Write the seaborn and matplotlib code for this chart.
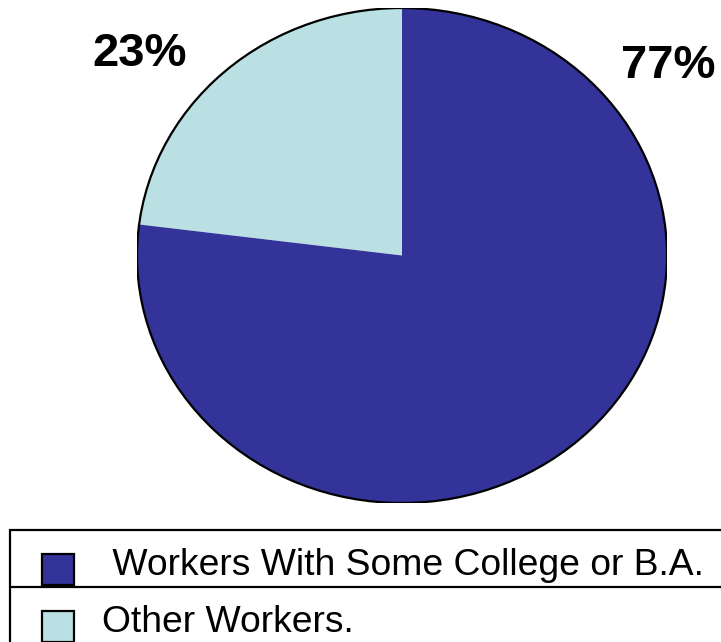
import matplotlib
matplotlib.use("Agg")
import matplotlib.pyplot as plt
from matplotlib.patches import Circle, Rectangle
from matplotlib.lines import Line2D
import seaborn as sns

# data
slice_names = ["Other Workers.", "Workers With Some College or B.A."]
slice_values = [23, 77]
slice_colors = ["#BBE0E3", "#333399"]

legend_labels = [" Workers With Some College or B.A.", "Other Workers."]
legend_colors = ["#333399", "#BBE0E3"]

sns.set_style("white")
plt.rcParams["font.family"] = ["Liberation Sans", "DejaVu Sans"]
plt.rcParams["text.color"] = "black"

W, H = 721, 642
fig = plt.figure(figsize=(W / 100, H / 100), dpi=100)

def fx(px):
    return px / W

def fy(py):
    return 1 - py / H

# pie drawn as an ellipse (aspect auto)
ax = fig.add_axes([fx(137), fy(503), (667 - 137) / W, (503 - 8) / H])
ax.pie(slice_values, colors=slice_colors, startangle=90, counterclock=True,
       radius=1, wedgeprops=dict(linewidth=0))
ax.add_patch(Circle((0, 0), 1, fill=False, edgecolor="black", linewidth=1.6))
ax.set_aspect("auto")
ax.set_xlim(-1, 1)
ax.set_ylim(-1, 1)
ax.axis("off")

# percent labels
fig.text(fx(140), fy(54), f"{slice_values[0]}%", fontsize=34, fontweight="bold",
         ha="center", va="center", color="black")
fig.text(fx(668), fy(66), f"{slice_values[1]}%", fontsize=34, fontweight="bold",
         ha="center", va="center", color="black")

# table-like legend
row_h = 57
for y in [530, 587]:
    fig.add_artist(Line2D([fx(10), 1.0], [fy(y), fy(y)], color="black",
                          linewidth=1.6, transform=fig.transFigure))
fig.add_artist(Line2D([fx(10), fx(10)], [fy(530), 0.0], color="black",
                      linewidth=1.6, transform=fig.transFigure))

for i, (lab, col) in enumerate(zip(legend_labels, legend_colors)):
    top = 554 + i * row_h
    fig.add_artist(Rectangle((fx(42), fy(top + 31)), 32 / W, 31 / H,
                             facecolor=col, edgecolor="black", linewidth=1.6,
                             transform=fig.transFigure))
    fig.text(fx(102), fy(575 + i * row_h), lab, fontsize=26.8,
             ha="left", va="baseline", color="black")

fig.savefig("out.png", dpi=100)
